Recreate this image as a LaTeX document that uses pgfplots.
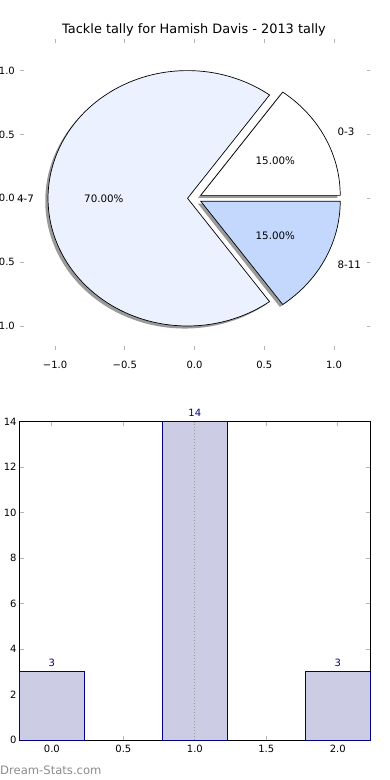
\documentclass[border=0pt]{standalone}
\usepackage{pgfplots}
\pgfplotsset{compat=1.18}
\usepackage{fontspec}
\setmainfont{DejaVu Sans}
\definecolor{wA}{HTML}{FFFFFF}
\definecolor{wB}{HTML}{EBF1FE}
\definecolor{wC}{HTML}{C4D8FE}
\definecolor{shad}{HTML}{9A9A9A}
\definecolor{barfill}{HTML}{CCCCE5}
\definecolor{navyc}{HTML}{000080}
\definecolor{tickgray}{HTML}{B4B4B4}
\definecolor{dotgray}{HTML}{999999}
\definecolor{wm}{HTML}{8C8C8C}
\begin{document}
\begin{tikzpicture}
% pie values (percent)
\def\pA{15}\def\pB{70}\def\pC{15}
\pgfmathsetmacro\aA{3.6*\pA}
\pgfmathsetmacro\aB{3.6*(\pA+\pB)}
\pgfmathsetmacro\mA{\aA/2}
\pgfmathsetmacro\mB{(\aA+\aB)/2}
\pgfmathsetmacro\mC{(\aB+360)/2}
\pgfmathsetmacro\cAx{0.05*cos(\mA)}\pgfmathsetmacro\cAy{0.05*sin(\mA)}
\pgfmathsetmacro\cBx{0.05*cos(\mB)}\pgfmathsetmacro\cBy{0.05*sin(\mB)}
\pgfmathsetmacro\cCx{0.05*cos(\mC)}\pgfmathsetmacro\cCy{0.05*sin(\mC)}
\pgfmathsetmacro\sAx{\cAx-0.02}\pgfmathsetmacro\sAy{\cAy-0.02}
\pgfmathsetmacro\sBx{\cBx-0.02}\pgfmathsetmacro\sBy{\cBy-0.02}
\pgfmathsetmacro\sCx{\cCx-0.02}\pgfmathsetmacro\sCy{\cCy-0.02}
\pgfmathsetmacro\lAx{\cAx+1.1*cos(\mA)}\pgfmathsetmacro\lAy{\cAy+1.1*sin(\mA)}
\pgfmathsetmacro\lBx{\cBx+1.1*cos(\mB)}\pgfmathsetmacro\lBy{\cBy+1.1*sin(\mB)}
\pgfmathsetmacro\lCx{\cCx+1.1*cos(\mC)}\pgfmathsetmacro\lCy{\cCy+1.1*sin(\mC)}
\pgfmathsetmacro\qAx{\cAx+0.6*cos(\mA)}\pgfmathsetmacro\qAy{\cAy+0.6*sin(\mA)}
\pgfmathsetmacro\qBx{\cBx+0.6*cos(\mB)}\pgfmathsetmacro\qBy{\cBy+0.6*sin(\mB)}
\pgfmathsetmacro\qCx{\cCx+0.6*cos(\mC)}\pgfmathsetmacro\qCy{\cCy+0.6*sin(\mC)}

\begin{axis}[
  at={(20pt,430pt)}, anchor=south west, scale only axis,
  width=350pt, height=310.5pt,
  xmin=-1.251, xmax=1.258, ymin=-1.188, ymax=1.2435,
  axis line style={draw=none},
  xtick={-1,-0.5,0,0.5,1}, xticklabels={−1.0,−0.5,0.0,0.5,1.0},
  ytick={-1,-0.5,0,0.5,1}, yticklabels={−1.0,−0.5,0.0,0.5,1.0},
  tick align=inside, major tick length=3.5pt,
  tick style={draw=tickgray, line width=0.8pt},
  xticklabel style={anchor=center, inner sep=0pt, yshift=-15pt, font=\fontsize{10}{12}\selectfont},
  yticklabel style={anchor=east, inner sep=0pt, xshift=-5pt, font=\fontsize{10}{12}\selectfont},
  clip=false,
]
% shadows
\addplot[draw=none, fill=shad, domain=0:\aA, samples=60, variable=\t] ({\sAx+cos(t)},{\sAy+sin(t)}) -- (axis cs:\sAx,\sAy) -- cycle;
\addplot[draw=none, fill=shad, domain=\aA:\aB, samples=200, variable=\t] ({\sBx+cos(t)},{\sBy+sin(t)}) -- (axis cs:\sBx,\sBy) -- cycle;
\addplot[draw=none, fill=shad, domain=\aB:360, samples=60, variable=\t] ({\sCx+cos(t)},{\sCy+sin(t)}) -- (axis cs:\sCx,\sCy) -- cycle;
% wedges
\addplot[draw=black, line width=0.7pt, fill=wA, domain=0:\aA, samples=60, variable=\t] ({\cAx+cos(t)},{\cAy+sin(t)}) -- (axis cs:\cAx,\cAy) -- cycle;
\addplot[draw=black, line width=0.7pt, fill=wB, domain=\aA:\aB, samples=200, variable=\t] ({\cBx+cos(t)},{\cBy+sin(t)}) -- (axis cs:\cBx,\cBy) -- cycle;
\addplot[draw=black, line width=0.7pt, fill=wC, domain=\aB:360, samples=60, variable=\t] ({\cCx+cos(t)},{\cCy+sin(t)}) -- (axis cs:\cCx,\cCy) -- cycle;
% labels
\node[anchor=west, inner sep=0pt, font=\fontsize{10.3}{12}\selectfont] at (axis cs:\lAx,\lAy) {0-3};
\node[anchor=east, inner sep=0pt, font=\fontsize{10.3}{12}\selectfont] at (axis cs:\lBx,\lBy) {4-7};
\node[anchor=west, inner sep=0pt, font=\fontsize{10.3}{12}\selectfont] at (axis cs:\lCx,\lCy) {8-11};
\node[inner sep=0pt, font=\fontsize{10.3}{12}\selectfont] at (axis cs:\qAx,\qAy) {15.00\%};
\node[inner sep=0pt, font=\fontsize{10.3}{12}\selectfont] at (axis cs:\qBx,\qBy) {70.00\%};
\node[inner sep=0pt, font=\fontsize{10.3}{12}\selectfont] at (axis cs:\qCx,\qCy) {15.00\%};
\end{axis}

\node[inner sep=0pt, font=\fontsize{12.9}{15}\selectfont] at (194pt,750.5pt) {Tackle tally for Hamish Davis - 2013 tally};

\begin{axis}[
  at={(19.7pt,40pt)}, anchor=south west, scale only axis,
  width=350.3pt, height=318.3pt,
  xmin=-0.225, xmax=2.225, ymin=0, ymax=14,
  /pgf/number format/assume math mode=true,
  xtick={0,0.5,1,1.5,2}, xticklabels={0.0,0.5,1.0,1.5,2.0},
  ytick={0,2,4,6,8,10,12,14},
  axis line style={black, line width=0.8pt},
  tick align=inside, major tick length=4pt,
  tick style={draw=tickgray, line width=0.8pt},
  xticklabel style={anchor=center, inner sep=0pt, yshift=-8.5pt, font=\fontsize{10}{12}\selectfont},
  yticklabel style={anchor=east, inner sep=0pt, xshift=-3pt, font=\fontsize{10}{12}\selectfont},
  clip=false,
]
\addplot[ybar, bar width=0.45, fill=barfill, draw=navyc, line width=0.8pt,
  nodes near coords,
  nodes near coords style={text=navyc, anchor=south, inner sep=0pt, yshift=5pt, font=\fontsize{10}{12}\selectfont}]
  coordinates {(0,3) (1,14) (2,3)};
\addplot[draw=dotgray, line width=1pt, dash pattern=on 1pt off 2pt] coordinates {(1,0) (1,14)};
\end{axis}

\node[anchor=west, inner sep=0pt, text=wm, font=\fontsize{11.6}{13}\selectfont] at (0pt,10pt) {Dream-Stats.com};

\pgfresetboundingbox
\useasboundingbox (0pt,0pt) rectangle (390pt,780pt);
\end{tikzpicture}
\end{document}
